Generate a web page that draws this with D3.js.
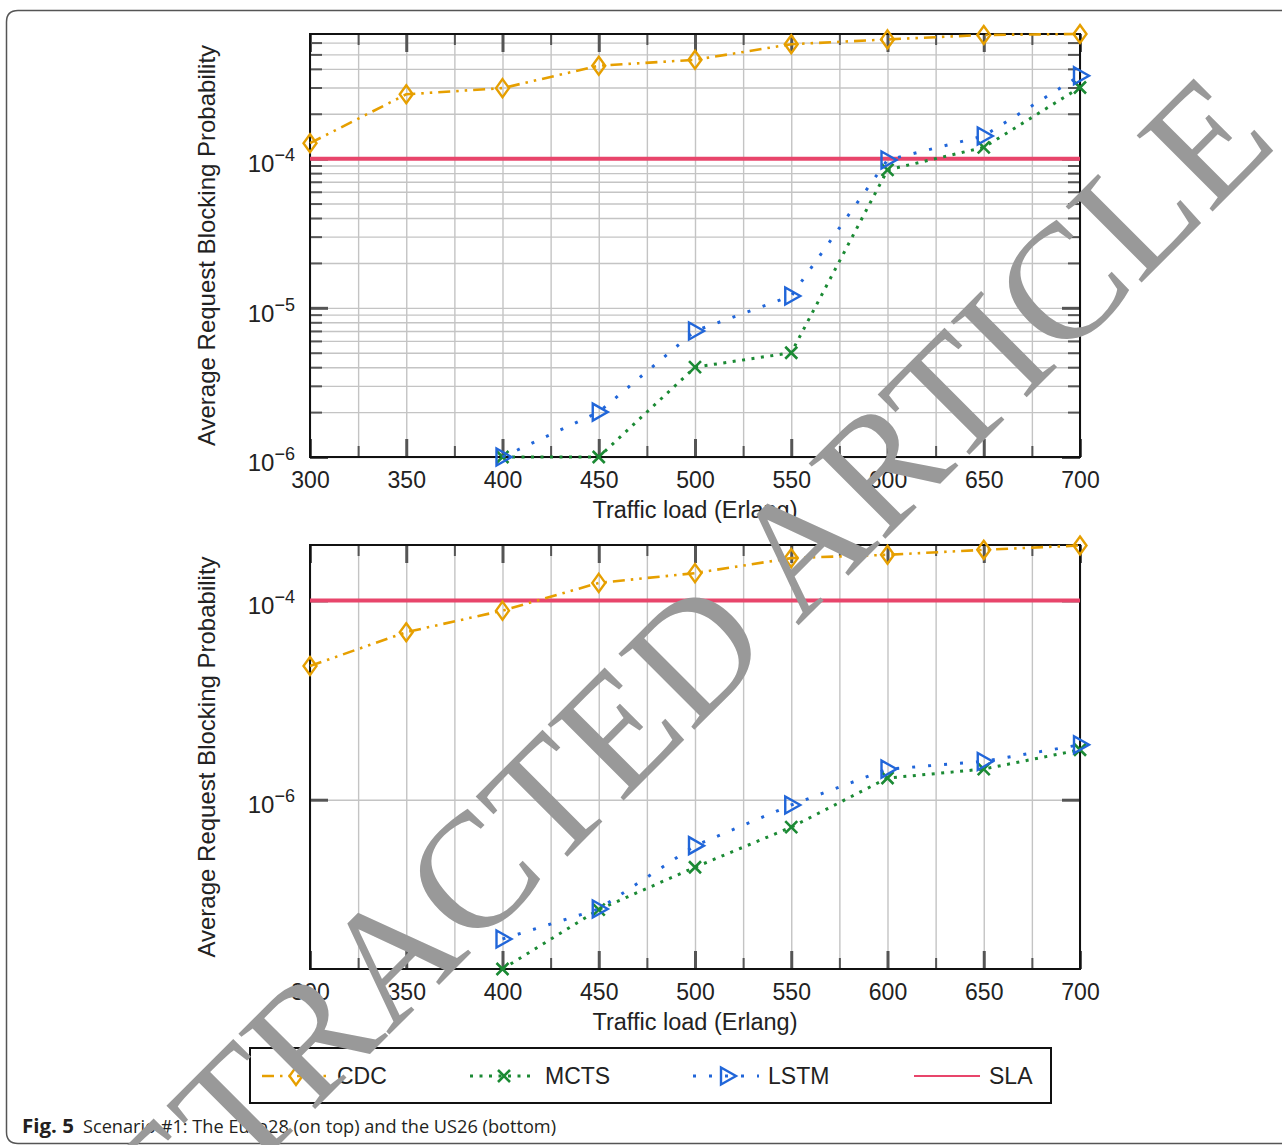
<!DOCTYPE html>
<html>
<head>
<meta charset="utf-8">
<script src="https://cdn.jsdelivr.net/npm/d3@7"></script>
<style>
  body { margin: 0; background: #fff; }
  svg text { font-family: "Liberation Sans", Arial, sans-serif; }
</style>
</head>
<body>
<div id="chart"></div>
<script>
// traffic load (Erlang)
const loads = [300, 350, 400, 450, 500, 550, 600, 650, 700];
const xTickLabels = [300, 350, 400, 450, 500, 550, 600, 650, 700];

// Euro28 (top panel)
const euroCDC  = [1.27e-4, 2.7e-4, 2.97e-4, 4.2e-4, 4.6e-4, 5.85e-4, 6.3e-4, 6.75e-4, 6.85e-4];
const euroMCTS = [null, null, 1e-6, 1e-6, 4e-6, 5e-6, 8.4e-5, 1.19e-4, 3.0e-4];
const euroLSTM = [null, null, 1e-6, 2e-6, 7e-6, 1.2e-5, 9.8e-5, 1.42e-4, 3.6e-4];
const euroYTicks = [1e-6, 1e-5, 1e-4];

// US26 (bottom panel)
const usCDC  = [2.2e-5, 4.8e-5, 7.9e-5, 1.5e-4, 1.88e-4, 2.66e-4, 2.87e-4, 3.22e-4, 3.56e-4];
const usMCTS = [null, null, 2.0e-8, 7.9e-8, 2.1e-7, 5.3e-7, 1.65e-6, 2.03e-6, 3.17e-6];
const usLSTM = [null, null, 4.0e-8, 8.0e-8, 3.46e-7, 8.85e-7, 2.03e-6, 2.42e-6, 3.56e-6];
const usYTicks = [1e-6, 1e-4];

const slaLevel = 1e-4;
const seriesNames = ['CDC', 'MCTS', 'LSTM', 'SLA'];

const width = 1282;
const height = 1145;
const left = 310, right = 1080;

const colors = { CDC: '#e69f00', MCTS: '#1b8a34', LSTM: '#2166d9', SLA: '#e8456b' };
const dashes = { CDC: '12,6,2.5,6,2.5,6', MCTS: '3,6.5', LSTM: '3,13', SLA: null };
const gridColor = '#c4c4c4';
const tickColor = '#555';

const svg = d3.select('#chart').append('svg')
  .attr('width', width)
  .attr('height', height)
  .style('background-color', '#fff');

// figure frame (rounded, open to the right)
svg.append('path')
  .attr('d', 'M1282,10.5 H18 Q6.5,10.5 6.5,22 V1132 Q6.5,1143.5 18,1143.5 H1282')
  .attr('fill', 'none')
  .attr('stroke', '#555')
  .attr('stroke-width', 1.5);

function marker(sel, name) {
  if (name === 'CDC') {
    sel.append('path').attr('d', 'M0,-9 L6.5,0 L0,9 L-6.5,0 Z')
      .attr('fill', 'none').attr('stroke', colors.CDC).attr('stroke-width', 2.4);
  } else if (name === 'MCTS') {
    sel.append('path').attr('d', 'M-6,-6 L6,6 M-6,6 L6,-6')
      .attr('fill', 'none').attr('stroke', colors.MCTS).attr('stroke-width', 2.6);
  } else if (name === 'LSTM') {
    sel.append('path').attr('d', 'M-6,-8.5 L9,0 L-6,8.5 Z')
      .attr('fill', 'none').attr('stroke', colors.LSTM).attr('stroke-width', 2.4);
  }
}

function drawPanel(p) {
  const x = d3.scaleLinear().domain([300, 700]).range([left, right]);
  const y = d3.scaleLog().domain(p.domain).range([p.bottom, p.top]);
  const w = right - left;
  const h = p.bottom - p.top;
  const g = svg.append('g');

  const steps = d3.range(300, 701, 25);
  const majorX = steps.filter(d => d % 50 === 0);
  const minorX = steps.filter(d => d % 50 !== 0);
  const logTicks = y.ticks();
  const minorY = p.minor ? logTicks.filter(v => !p.majors.some(m => Math.abs(m - v) / m < 1e-6)) : [];

  // vertical grid
  g.append('g').attr('transform', `translate(0,${p.bottom})`)
    .call(d3.axisBottom(x).tickValues(steps).tickSize(-h).tickFormat(''))
    .call(a => a.select('.domain').remove())
    .selectAll('line').attr('stroke', gridColor).attr('stroke-width', 1.4);

  // horizontal grid
  g.append('g').attr('transform', `translate(${left},0)`)
    .call(d3.axisLeft(y).tickValues(p.minor ? logTicks : p.majors).tickSize(-w).tickFormat(''))
    .call(a => a.select('.domain').remove())
    .selectAll('line').attr('stroke', gridColor).attr('stroke-width', 1.4);

  // tick marks, drawn inwards on all four sides
  const tickSets = [
    [d3.axisBottom(x).tickValues(majorX).tickSize(-18), `translate(0,${p.bottom})`, 3],
    [d3.axisBottom(x).tickValues(minorX).tickSize(-11), `translate(0,${p.bottom})`, 2],
    [d3.axisTop(x).tickValues(majorX).tickSize(-18), `translate(0,${p.top})`, 3],
    [d3.axisTop(x).tickValues(minorX).tickSize(-11), `translate(0,${p.top})`, 2],
    [d3.axisLeft(y).tickValues(p.majors).tickSize(-18), `translate(${left},0)`, 3],
    [d3.axisLeft(y).tickValues(minorY).tickSize(-12), `translate(${left},0)`, 2],
    [d3.axisRight(y).tickValues(p.majors).tickSize(-18), `translate(${right},0)`, 3],
    [d3.axisRight(y).tickValues(minorY).tickSize(-12), `translate(${right},0)`, 2]
  ];
  tickSets.forEach(([axis, tr, sw]) => {
    g.append('g').attr('transform', tr)
      .call(axis.tickFormat(''))
      .call(a => a.select('.domain').remove())
      .selectAll('line').attr('stroke', tickColor).attr('stroke-width', sw);
  });

  // frame
  g.append('rect')
    .attr('x', left).attr('y', p.top).attr('width', w).attr('height', h)
    .attr('fill', 'none').attr('stroke', '#111').attr('stroke-width', 2);

  // x tick labels
  g.append('g').attr('transform', `translate(0,${p.bottom})`)
    .call(d3.axisBottom(x).tickValues(xTickLabels).tickSize(0).tickPadding(15))
    .call(a => a.select('.domain').remove())
    .selectAll('text')
    .attr('font-size', 23).attr('fill', '#222')
    .style('font-family', '"Liberation Sans", Arial, sans-serif');

  // y tick labels as 10^n
  g.append('g').attr('transform', `translate(${left},0)`)
    .call(d3.axisLeft(y).tickValues(p.majors).tickSize(0).tickPadding(15).tickFormat(''))
    .call(a => a.select('.domain').remove())
    .selectAll('.tick text')
    .each(function(d) {
      const t = d3.select(this)
        .attr('dy', '0.55em')
        .attr('font-size', 24)
        .attr('fill', '#222')
        .style('font-family', '"Liberation Sans", Arial, sans-serif');
      t.append('tspan').text('10');
      t.append('tspan').attr('font-size', 18).attr('dy', -11)
        .text('\u2212' + Math.abs(Math.round(Math.log10(d))));
    });

  // axis titles
  g.append('text')
    .attr('transform', `translate(${(left + right) / 2},${p.bottom + 61})`)
    .attr('text-anchor', 'middle')
    .attr('font-size', 23.5).attr('fill', '#222')
    .text('Traffic load (Erlang)');
  g.append('text')
    .attr('transform', `translate(215,${(p.top + p.bottom) / 2}) rotate(-90)`)
    .attr('text-anchor', 'middle')
    .attr('font-size', 24).attr('fill', '#222')
    .text('Average Request Blocking Probability');

  // SLA threshold
  g.append('line')
    .attr('x1', x(300)).attr('x2', x(700))
    .attr('y1', y(slaLevel)).attr('y2', y(slaLevel))
    .attr('stroke', colors.SLA).attr('stroke-width', 4);

  const line = d3.line()
    .defined(d => d.v != null)
    .x(d => x(d.load))
    .y(d => y(d.v));

  p.series.forEach(s => {
    const pts = loads.map((load, i) => ({ load, v: s.values[i] }));
    g.append('path')
      .attr('d', line(pts))
      .attr('fill', 'none')
      .attr('stroke', colors[s.name])
      .attr('stroke-width', s.name === 'CDC' ? 2.6 : 3)
      .attr('stroke-dasharray', dashes[s.name]);
    g.selectAll(null)
      .data(pts.filter(d => d.v != null))
      .join('g')
      .attr('transform', d => `translate(${x(d.load)},${y(d.v)})`)
      .each(function() { marker(d3.select(this), s.name); });
  });
}

drawPanel({
  top: 34, bottom: 457,
  domain: [1e-6, 6.85e-4],
  majors: euroYTicks,
  minor: true,
  series: [
    { name: 'CDC', values: euroCDC },
    { name: 'MCTS', values: euroMCTS },
    { name: 'LSTM', values: euroLSTM }
  ]
});

drawPanel({
  top: 545, bottom: 969,
  domain: [2e-8, 3.6e-4],
  majors: usYTicks,
  minor: false,
  series: [
    { name: 'CDC', values: usCDC },
    { name: 'MCTS', values: usMCTS },
    { name: 'LSTM', values: usLSTM }
  ]
});

// legend
const legend = svg.append('g');
legend.append('rect')
  .attr('x', 250).attr('y', 1048).attr('width', 801).attr('height', 55)
  .attr('fill', '#fff').attr('stroke', '#111').attr('stroke-width', 2);

const slot = d3.scaleOrdinal().domain(seriesNames).range([262, 470, 693, 914]);
seriesNames.forEach(name => {
  const x0 = slot(name);
  const cy = 1076;
  legend.append('line')
    .attr('x1', x0).attr('x2', x0 + 66)
    .attr('y1', cy).attr('y2', cy)
    .attr('stroke', colors[name])
    .attr('stroke-width', name === 'SLA' ? 2 : (name === 'CDC' ? 2.6 : 3))
    .attr('stroke-dasharray', dashes[name]);
  const m = legend.append('g').attr('transform', `translate(${x0 + 34},${cy})`);
  marker(m, name);
  legend.append('text')
    .attr('x', x0 + 75).attr('y', cy + 8)
    .attr('font-size', 23).attr('fill', '#222')
    .text(name);
});

// caption
const caption = svg.append('text')
  .attr('x', 22).attr('y', 1133)
  .style('font-family', '"Open Sans", "Noto Sans", sans-serif')
  .attr('font-size', 19).attr('fill', '#231f20');
caption.append('tspan').attr('font-weight', 'bold').attr('textLength', 52).attr('lengthAdjust', 'spacingAndGlyphs').text('Fig. 5');
svg.append('text')
  .attr('x', 83).attr('y', 1133)
  .style('font-family', '"Open Sans", "Noto Sans", sans-serif')
  .attr('font-size', 19).attr('fill', '#231f20')
  .attr('textLength', 473).attr('lengthAdjust', 'spacingAndGlyphs')
  .text('Scenario #1: The Euro28 (on top) and the US26 (bottom)');

// retraction watermark
svg.append('text')
  .attr('transform', 'translate(686,738) rotate(-45)')
  .attr('text-anchor', 'middle')
  .style('font-family', '"Liberation Serif", "Times New Roman", serif')
  .attr('font-size', 164)
  .attr('fill', '#999')
  .text('RETRACTED ARTICLE');
</script>
</body>
</html>
